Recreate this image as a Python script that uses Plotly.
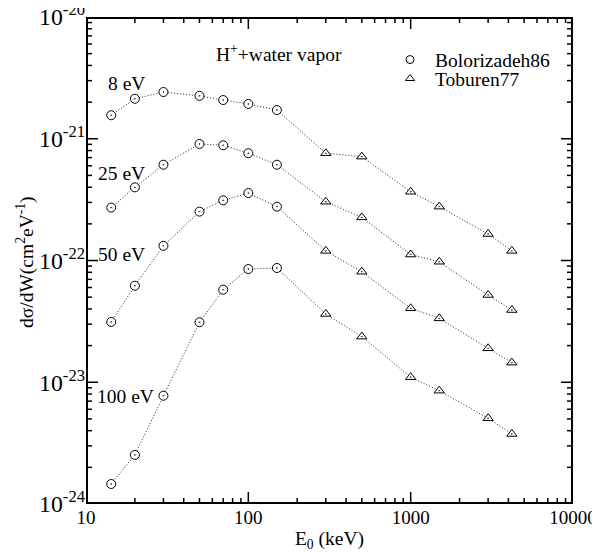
import math
import plotly.graph_objects as go

# Projectile energies (keV)
bol_E = [14.3, 20, 30, 50, 70, 100, 150]
tob_E = [300, 500, 1000, 1500, 3000, 4200]

# Cross sections (cm^2/eV) for each ejected electron energy
bol_8 = [1.56e-21, 2.13e-21, 2.42e-21, 2.25e-21, 2.08e-21, 1.93e-21, 1.72e-21]
tob_8 = [7.60e-22, 7.13e-22, 3.67e-22, 2.77e-22, 1.65e-22, 1.20e-22]
bol_25 = [2.72e-22, 3.99e-22, 6.12e-22, 9.06e-22, 8.84e-22, 7.60e-22, 6.12e-22]
tob_25 = [3.04e-22, 2.26e-22, 1.12e-22, 9.77e-23, 5.21e-23, 3.92e-23]
bol_50 = [3.13e-23, 6.21e-23, 1.32e-22, 2.52e-22, 3.12e-22, 3.58e-22, 2.77e-22]
tob_50 = [1.20e-22, 8.09e-23, 4.05e-23, 3.35e-23, 1.90e-23, 1.45e-23]
bol_100 = [1.46e-24, 2.53e-24, 7.75e-24, 3.11e-23, 5.76e-23, 8.51e-23, 8.68e-23]
tob_100 = [3.64e-23, 2.37e-23, 1.10e-23, 8.53e-24, 5.06e-24, 3.76e-24]

series_labels = ["8 eV", "25 eV", "50 eV", "100 eV"]
bol_sets = [bol_8, bol_25, bol_50, bol_100]
tob_sets = [tob_8, tob_25, tob_50, tob_100]

x_exps = [1, 2, 3, 4]
y_exps = [-24, -23, -22, -21, -20]
XR = [1, 4]
YR = [-24, -20]

FONT = "Liberation Serif"
FS = 19.5
SOLID = "2000px,1px"  # effectively solid stroke

# page body has an 8px default margin; build the figure 8px smaller
OFF = 8
W, H = 600 - OFF, 552 - OFF
PL, PR, PT, PB = 86, 573, 17, 504  # target plot box in window pixels
L, T = PL - OFF, PT - OFF
R, B = W - (PR - OFF), H - (PB - OFF)
pw, ph = W - L - R, H - T - B

fig = go.Figure()

# dotted connecting lines
for b, t in zip(bol_sets, tob_sets):
    fig.add_trace(go.Scatter(
        x=bol_E + tob_E, y=b + t, mode="lines",
        line=dict(color="#222222", width=1, dash="1px,2px"),
        showlegend=False, hoverinfo="skip"))

# ---- frame and tick marks (axis decoration) ----
def xfrac(v):
    return (math.log10(v) - XR[0]) / (XR[1] - XR[0])

def yfrac(v):
    return (math.log10(v) - YR[0]) / (YR[1] - YR[0])

def xdata(f):
    return 10 ** (XR[0] + f * (XR[1] - XR[0]))

def ydata(f):
    return 10 ** (YR[0] + f * (YR[1] - YR[0]))

xmaj = [xfrac(10 ** e) for e in x_exps]
xmin = [xfrac(m * 10 ** e) for e in range(XR[0], XR[1]) for m in range(2, 10)]
ymaj = [yfrac(10.0 ** e) for e in y_exps]
ymin = [yfrac(m * 10.0 ** e) for e in range(YR[0], YR[1]) for m in range(2, 10)]

MAJ, MIN = 12, 6
segs = []  # (fx0, fy0, fx1, fy1) in paper fractions
for xs, ln in ((xmaj, MAJ), (xmin, MIN)):
    for f in xs:
        segs.append((f, 0, f, ln / ph))
        segs.append((f, 1, f, 1 - ln / ph))
for ys, ln in ((ymaj, MAJ), (ymin, MIN)):
    for f in ys:
        segs.append((0, f, ln / pw, f))
        segs.append((1, f, 1 - ln / pw, f))

tx_, ty_ = [], []
for a, b_, c, d in segs:
    tx_ += [xdata(a), xdata(c), None]
    ty_ += [ydata(b_), ydata(d), None]
fig.add_trace(go.Scatter(x=tx_, y=ty_, mode="lines",
                         line=dict(color="black", width=1.5, dash=SOLID),
                         showlegend=False, hoverinfo="skip"))

ix, iy = 1 / pw, 1 / ph
frame_f = [(ix, iy), (1 - ix, iy), (1 - ix, 1 - iy), (ix, 1 - iy), (ix, iy)]
fig.add_trace(go.Scatter(x=[xdata(a) for a, _ in frame_f], y=[ydata(b_) for _, b_ in frame_f],
                         mode="lines", line=dict(color="black", width=2, dash=SOLID),
                         showlegend=False, hoverinfo="skip"))

# markers
bx, by, tx, ty = [], [], [], []
for b, t in zip(bol_sets, tob_sets):
    bx += bol_E; by += b
    tx += tob_E; ty += t

fig.add_trace(go.Scatter(
    x=bx, y=by, mode="markers", name="Bolorizadeh86", showlegend=False,
    marker=dict(symbol="circle-dot", size=9, color="white",
                line=dict(color="black", width=1))))
fig.add_trace(go.Scatter(
    x=tx, y=ty, mode="markers", name="Toburen77", showlegend=False,
    marker=dict(symbol="triangle-up-dot", size=9, color="white",
                line=dict(color="black", width=1))))

# legend entries (plain open symbols, as in the original legend)
fig.add_trace(go.Scatter(x=[None], y=[None], mode="markers", name="Bolorizadeh86",
                         marker=dict(symbol="circle-open", size=8, color="black",
                                     line=dict(color="black", width=1)),
                         legend="legend"))
fig.add_trace(go.Scatter(x=[None], y=[None], mode="markers", name="Toburen77",
                         marker=dict(symbol="triangle-up-open", size=8, color="black",
                                     line=dict(color="black", width=1)),
                         legend="legend2"))

# series labels (window pixel positions)
label_pos = [(126, 84), (121, 173), (121, 254), (125, 396)]
for txt, (px, py) in zip(series_labels, label_pos):
    fig.add_annotation(x=(px - PL) / pw, y=(PB - py) / ph, xref="paper", yref="paper",
                       xanchor="center", yanchor="middle",
                       text=txt, showarrow=False, font=dict(family=FONT, size=FS, color="black"))

fig.add_annotation(x=(279 - PL) / pw, y=(PB - 53) / ph, xref="paper", yref="paper",
                   xanchor="center", yanchor="middle",
                   text="H<sup>+</sup>+water vapor", showarrow=False,
                   font=dict(family=FONT, size=FS, color="black"))

# y-axis title
fig.add_annotation(x=(25 - PL) / pw, y=(PB - 262) / ph, xref="paper", yref="paper",
                   xanchor="center", yanchor="middle", textangle=-90,
                   text="dσ/dW(cm<sup>2</sup>eV<sup>-1</sup>)", showarrow=False,
                   font=dict(family=FONT, size=FS, color="black"))

axis_common = dict(
    showgrid=False, zeroline=False, showline=False, ticks="",
    tickfont=dict(family=FONT, size=19, color="black"), automargin=False,
    tickmode="linear", tick0=0, dtick=1, ticklabeloverflow="allow",
)

fig.update_xaxes(type="log", range=XR, tickformat="d",
                 title=dict(text="E<sub>0</sub> (keV)", font=dict(family=FONT, size=FS, color="black"), standoff=4),
                 **axis_common)
fig.update_yaxes(type="log", range=YR, exponentformat="power", showexponent="all",
                 labelalias={"10<sup>\u2212%d</sup>" % (-e): "10<sup>-%d</sup>" % (-e) for e in y_exps},
                 **axis_common)

fig.update_layout(
    width=W, height=H, margin=dict(l=L, r=R, t=T, b=B, autoexpand=False),
    plot_bgcolor="white", paper_bgcolor="white",
    font=dict(family=FONT, size=FS, color="black"),
    legend=dict(x=0.614, y=0.952, xanchor="left", yanchor="top", bgcolor="rgba(0,0,0,0)",
                itemwidth=40, font=dict(family=FONT, size=FS, color="black")),
    legend2=dict(x=0.614, y=0.913, xanchor="left", yanchor="top", bgcolor="rgba(0,0,0,0)",
                 itemwidth=40, font=dict(family=FONT, size=FS, color="black")),
)

fig.write_html("out.html")
